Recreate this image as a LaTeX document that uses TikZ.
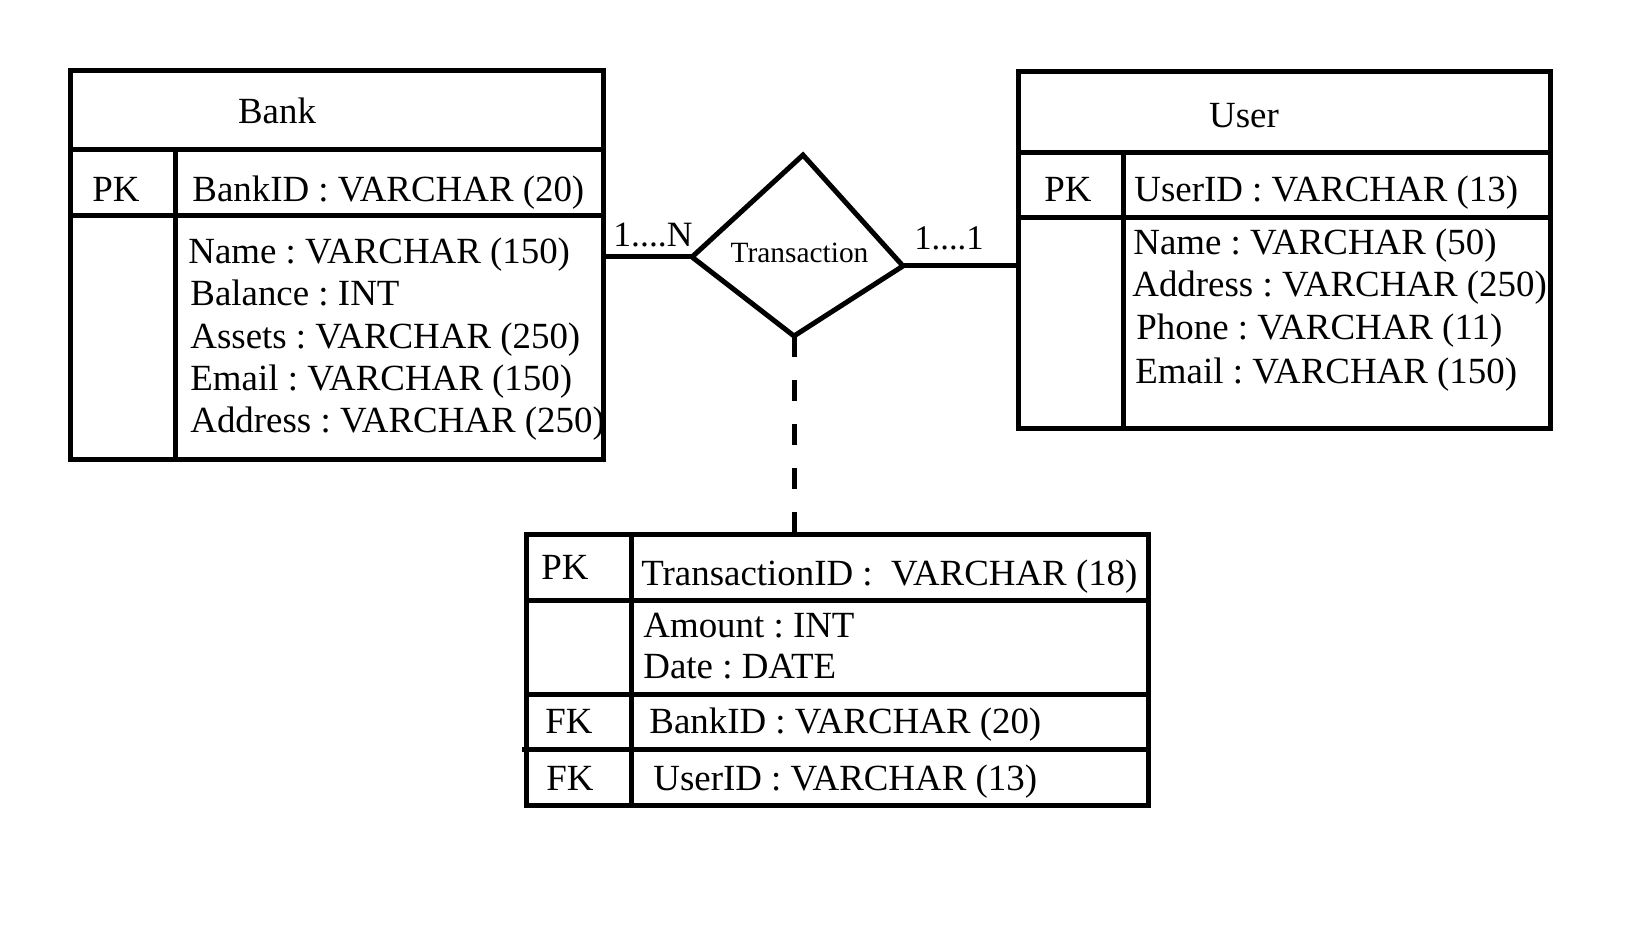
\documentclass[tikz,border=0pt]{standalone}
\usepackage{fontspec}
\setmainfont{Liberation Serif}
\usetikzlibrary{fit}
\frenchspacing
\begin{document}
\begin{tikzpicture}[x=0.5pt,y=-0.5pt,
  ln/.style={line width=2.5pt},
  tbl/.style={draw, line width=2.5pt, inner sep=0pt},
  txt/.style={anchor=base west, inner sep=0pt, font=\fontsize{18.45}{21}\selectfont},
  ctxt/.style={anchor=base, inner sep=0pt, font=\fontsize{18.45}{21}\selectfont},
  lbl/.style={anchor=base west, inner sep=0pt, font=\fontsize{17.8}{20}\selectfont},
]
\useasboundingbox (0,0) rectangle (1646,936);

% ---------- Bank ----------
\node[tbl, fit={(70,71) (603,460)}] (bank) {};
\draw[ln] (70,150) -- (603,150);
\draw[ln] (70,216) -- (603,216);
\draw[ln] (175,150) -- (175,460);
\node[ctxt] (bankT) at (277,124) {Bank};
\node[ctxt] (bankPK) at (116,202) {PK};
\node[txt] (bankID) at (192,202) {BankID : VARCHAR (20)};
\node[txt] (bankA1) at (188,264) {Name : VARCHAR (150)};
\node[txt] (bankA2) at (190,306) {Balance : INT};
\node[txt] (bankA3) at (190,349) {Assets : VARCHAR (250)};
\node[txt] (bankA4) at (190,391) {Email : VARCHAR (150)};
\node[txt] (bankA5) at (190,433) {Address : VARCHAR (250)};

% ---------- User ----------
\node[tbl, fit={(1018,72) (1550,429)}] (user) {};
\draw[ln] (1018,153) -- (1550,153);
\draw[ln] (1018,218) -- (1550,218);
\draw[ln] (1123,153) -- (1123,429);
\node[ctxt] (userT) at (1244,128) {User};
\node[ctxt] (userPK) at (1068,202) {PK};
\node[txt] (userID) at (1134,202) {UserID : VARCHAR (13)};
\node[txt] (userA1) at (1133,255) {Name : VARCHAR (50)};
\node[txt] (userA2) at (1132,297) {Address : VARCHAR (250)};
\node[txt] (userA3) at (1136,340) {Phone : VARCHAR (11)};
\node[txt] (userA4) at (1135,384) {Email : VARCHAR (150)};

% ---------- Transaction table ----------
\node[tbl, fit={(526,535) (1148,805)}] (trans) {};
\draw[ln] (631,535) -- (631,805);
\draw[ln] (526,600) -- (1148,600);
\draw[ln] (526,694) -- (1148,694);
\draw[ln] (522,749) -- (1148,749);
\node[ctxt] (trPK) at (565,580) {PK};
\node[txt] (trID) at (641,585) {TransactionID :\ \ VARCHAR (18)};
\node[txt] (trA1) at (643,638) {Amount : INT};
\node[txt] (trA2) at (643,678) {Date : DATE};
\node[ctxt] (trFK1) at (569,733) {FK};
\node[txt] (trB) at (649,733) {BankID : VARCHAR (20)};
\node[ctxt] (trFK2) at (570,790) {FK};
\node[txt] (trU) at (653,790) {UserID : VARCHAR (13)};

% ---------- Relationship ----------
\coordinate (dT) at (803,155);
\coordinate (dR) at (903,266);
\coordinate (dB) at (794,336);
\coordinate (dL) at (692,257);
\draw[ln, line join=miter] (dT) -- (dR) -- (dB) -- (dL) -- cycle;
\node[anchor=base, inner sep=0pt, font=\fontsize{14.7}{17}\selectfont] (rel) at (799.5,263) {Transaction};

\draw[ln] (dL) -- (dL -| bank.east);
\draw[ln] (dR) -- (dR -| user.west);
\draw[ln, dash pattern=on 10.5pt off 11.5pt] (dB) -- (dB |- trans.north);

\node[lbl] (cardN) at (613,247) {1....N};
\node[lbl, font=\fontsize{17.3}{19}\selectfont] (card1) at (914,250) {1....1};
\end{tikzpicture}
\end{document}
